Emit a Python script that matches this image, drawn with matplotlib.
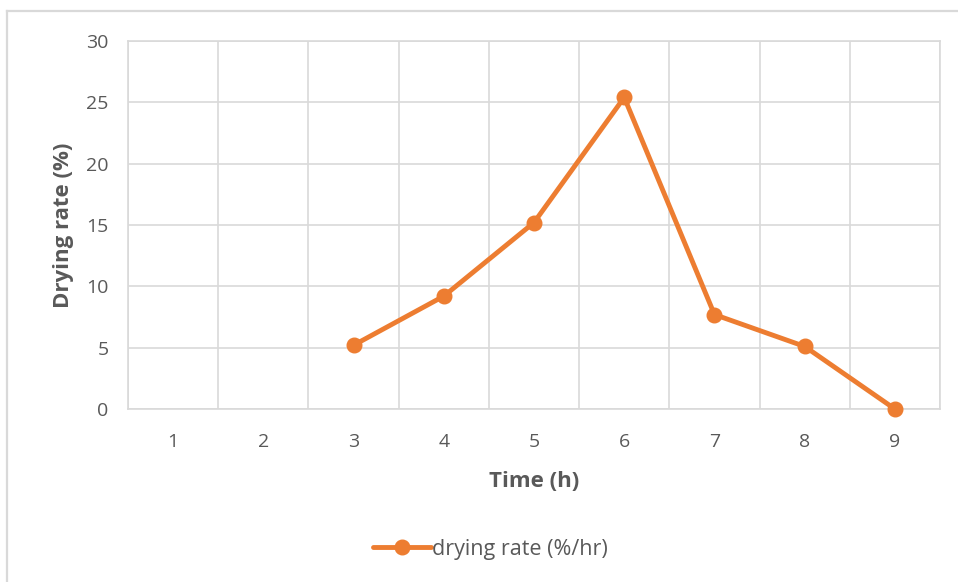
import matplotlib
matplotlib.use("Agg")
import matplotlib.pyplot as plt
from matplotlib.lines import Line2D

plt.rcParams['font.family'] = ['Open Sans', 'DejaVu Sans']

# Data
time_h = [1, 2, 3, 4, 5, 6, 7, 8, 9]
drying_rate = [None, None, 5.2, 9.2, 15.2, 25.4, 7.7, 5.1, 0.0]
y_ticks = [0, 5, 10, 15, 20, 25, 30]

ORANGE = '#ED7D31'
GRID = '#D9D9D9'
TEXT = '#595959'

fig = plt.figure(figsize=(9.58, 5.82), dpi=100)
ax = fig.add_axes([128 / 958, 1 - 409 / 582, 812 / 958, 368 / 582])

xs = [t for t, v in zip(time_h, drying_rate) if v is not None]
ys = [v for v in drying_rate if v is not None]
line, = ax.plot(xs, ys, color=ORANGE, lw=3.5, marker='o', ms=10.5,
                solid_capstyle='round', solid_joinstyle='round', zorder=3,
                clip_on=False, label='drying rate (%/hr)')

ax.set_xlim(0.5, 9.5)
ax.set_ylim(0, 30)
ax.set_yticks(y_ticks)
ax.set_xticks(time_h)
ax.set_xticks([t + 0.5 for t in [0] + time_h], minor=True)
ax.grid(True, axis='y', which='major', color=GRID, lw=1.2)
ax.grid(True, axis='x', which='minor', color=GRID, lw=1.2)
ax.tick_params(which='both', length=0, colors=TEXT, labelsize=14)
ax.tick_params(axis='y', pad=14)
ax.tick_params(axis='x', pad=17)
for s in ax.spines.values():
    s.set_color(GRID)
    s.set_linewidth(1.2)

ax.set_xlabel('Time (h)', fontsize=16, fontweight='bold', color=TEXT, labelpad=15)
ax.set_ylabel('Drying rate (%)', fontsize=16, fontweight='bold', color=TEXT, labelpad=9)

fig.legend(handles=[line], loc='center', bbox_to_anchor=(490 / 958, 1 - 549 / 582),
           frameon=False, fontsize=15.5, labelcolor=TEXT, handlelength=2.7,
           handletextpad=0.05)

# Chart frame
fig.add_artist(Line2D([7 / 958, 7 / 958], [0, 1 - 11 / 582], transform=fig.transFigure,
                      color=GRID, lw=1.6))
fig.add_artist(Line2D([7 / 958, 1], [1 - 11 / 582, 1 - 11 / 582], transform=fig.transFigure,
                      color=GRID, lw=1.6))

fig.savefig('out.png', dpi=100, facecolor='white')
